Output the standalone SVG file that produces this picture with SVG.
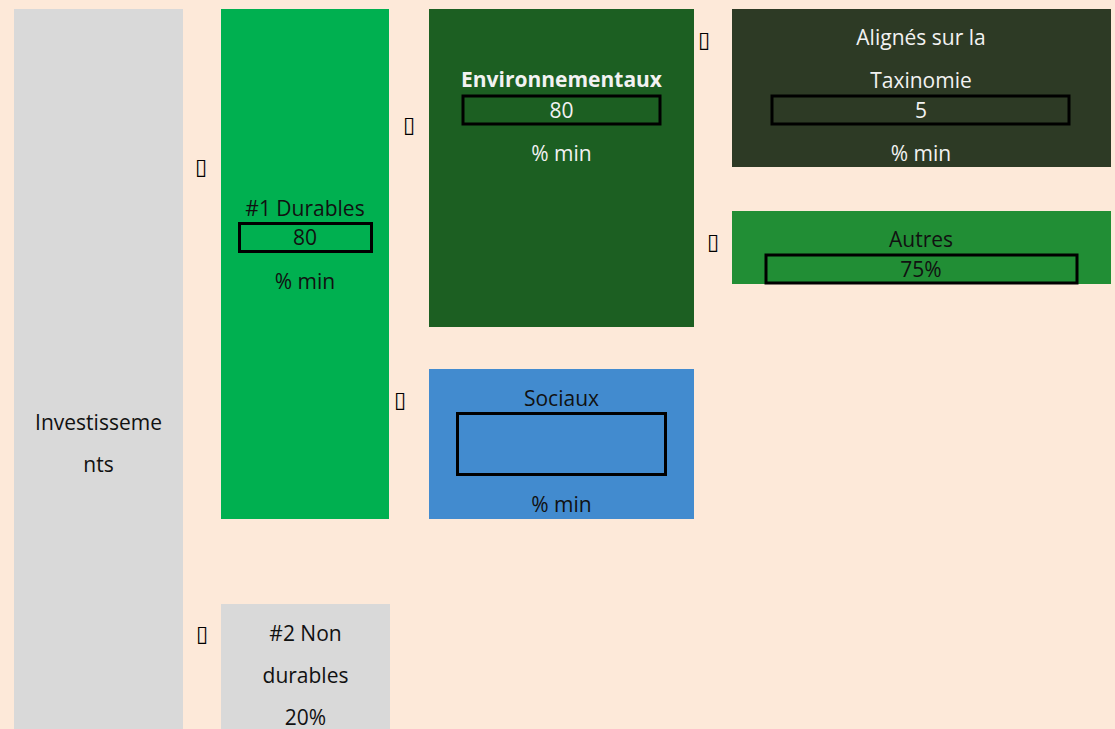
<svg xmlns="http://www.w3.org/2000/svg" width="1115" height="729" viewBox="0 0 1115 729">
<style>
text{font-family:"Open Sans","Noto Sans","Liberation Sans",sans-serif;font-size:21px;text-anchor:middle}
.dk{fill:#111111}
.lt{fill:#f2f2f2}
.frame{fill:none;stroke:#000;stroke-width:3}
.tofu{font-family:"DejaVu Sans",sans-serif;font-size:22px;fill:#000}
</style>
<rect x="0" y="0" width="1115" height="729" fill="#FDE9D9"/>
<g id="investissements">
<rect x="14" y="9" width="169" height="730" fill="#D9D9D9"/>
<text class="dk" x="98.5" y="430">Investisseme</text>
<text class="dk" x="98.5" y="472">nts</text>
</g>
<g id="durables">
<rect x="221" y="9" width="168" height="510" fill="#00B050"/>
<text class="dk" x="305" y="216">#1 Durables</text>
<rect class="frame" x="239.5" y="223.5" width="132" height="28"/>
<text class="dk" x="305" y="245">80</text>
<text class="dk" x="305" y="289">% min</text>
</g>
<g id="environnementaux">
<rect x="429" y="9" width="265" height="318" fill="#1C5F22"/>
<text class="lt" x="561.5" y="87" font-weight="bold" fill="#ffffff">Environnementaux</text>
<rect class="frame" x="463" y="96" width="197" height="28"/>
<text class="lt" x="561.5" y="118">80</text>
<text class="lt" x="561.5" y="161">% min</text>
</g>
<g id="alignes">
<rect x="732" y="9" width="379" height="158" fill="#2D3A25"/>
<text class="lt" x="921" y="45">Alignés sur la</text>
<text class="lt" x="921" y="88">Taxinomie</text>
<rect class="frame" x="772" y="96" width="297" height="28"/>
<text class="lt" x="921" y="118">5</text>
<text class="lt" x="921" y="161">% min</text>
</g>
<g id="autres">
<rect x="732" y="211" width="379" height="73" fill="#218E35"/>
<text class="dk" x="921" y="247">Autres</text>
<rect class="frame" x="766" y="255" width="311" height="28"/>
<text class="dk" x="921" y="277">75%</text>
</g>
<g id="sociaux">
<rect x="429" y="369" width="265" height="150" fill="#428BCF"/>
<text class="dk" x="561.5" y="406">Sociaux</text>
<rect class="frame" x="457.5" y="413.5" width="208" height="61"/>
<text class="dk" x="561.5" y="512">% min</text>
</g>
<g id="non-durables">
<rect x="221" y="604" width="169" height="135" fill="#D9D9D9"/>
<text class="dk" x="305.5" y="641">#2 Non</text>
<text class="dk" x="305.5" y="683">durables</text>
<text class="dk" x="305.5" y="725">20%</text>
</g>
<g id="connectors">
<text class="tofu" x="201" y="174">▯</text>
<text class="tofu" x="409" y="132">▯</text>
<text class="tofu" x="704" y="47">▯</text>
<text class="tofu" x="713" y="249">▯</text>
<text class="tofu" x="400" y="407">▯</text>
<text class="tofu" x="202" y="641">▯</text>
</g>
</svg>
